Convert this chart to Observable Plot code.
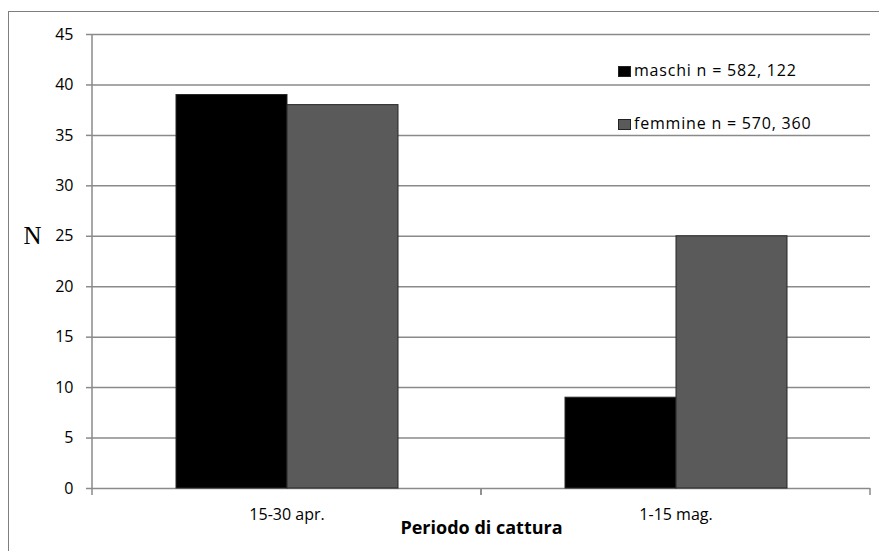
<!DOCTYPE html>
<html>
<head>
<meta charset="utf-8">
<script src="https://cdn.jsdelivr.net/npm/d3@7"></script>
<script src="https://cdn.jsdelivr.net/npm/@observablehq/plot@0.6"></script>
<style>
  body { margin: 0; background: #fff; }
  #wrap { position: relative; width: 879px; height: 551px; overflow: hidden; font-family: "Open Sans", sans-serif; }
  #border { position: absolute; left: 8px; top: 11px; width: 950px; height: 650px;
            border-left: 1.5px solid #7f7f7f; border-top: 1.5px solid #7f7f7f; pointer-events: none; }
  .leg { position: absolute; left: 618px; height: 20px; line-height: 20px; font-size: 16px;
         letter-spacing: 0.8px; color: #000; white-space: nowrap; }
  .sw { display: inline-block; width: 13px; height: 11px; border: 1px solid #222; margin-right: 3px;
        vertical-align: -1px; box-sizing: border-box; }
</style>
</head>
<body>
<div id="wrap"><div id="border"></div></div>
<script>
// ---- data ----
const periodi = ["15-30 apr.", "1-15 mag."];
const sessi = ["maschi", "femmine"];
const maschi = [39, 9];
const femmine = [38, 25];
const legendLabels = ["maschi n = 582, 122", "femmine n = 570, 360"];
const colori = ["#000000", "#5a5a5a"];
const yTicks = [0, 5, 10, 15, 20, 25, 30, 35, 40, 45];
const yLabel = "N";
const xTitle = "Periodo di cattura";

const table = periodi.flatMap((p, i) => [
  {periodo: p, sesso: sessi[0], n: maschi[i]},
  {periodo: p, sesso: sessi[1], n: femmine[i]}
]);

const gridColor = "#8a8a8a";

// small tick marks at the category boundaries (drawn in every facet, from the inner x scale's range)
const boundaryTicks = Plot.ruleY([0], {
  render(index, scales) {
    const [x0, x1] = scales.x.range();
    const y0 = scales.y(0);
    const g = d3.create("svg:g").attr("stroke", gridColor).attr("stroke-width", 1.5);
    for (const x of [x0, x1]) g.append("line").attr("x1", x).attr("x2", x).attr("y1", y0).attr("y2", y0 + 7);
    return g.node();
  }
});

// vertical axis line, only in the first facet
const yAxisLine = Plot.ruleY([0], {
  fx: () => periodi[0],
  render(index, scales) {
    const [x0] = scales.x.range();
    const g = d3.create("svg:g").attr("stroke", gridColor).attr("stroke-width", 1.5);
    g.append("line").attr("x1", x0).attr("x2", x0).attr("y1", scales.y(d3.max(yTicks))).attr("y2", scales.y(0));
    return g.node();
  }
});

const chart = Plot.plot({
  width: 879,
  height: 551,
  marginLeft: 92,
  marginRight: 9,
  marginTop: 34,
  marginBottom: 63,
  style: {fontFamily: "Open Sans, sans-serif", fontSize: "16px", color: "#000", background: "transparent", overflow: "visible"},
  fx: {domain: periodi, padding: 0, label: null},
  x: {domain: sessi, paddingInner: 0, paddingOuter: 0.75, axis: null},
  y: {domain: [0, 45], label: null},
  color: {domain: sessi, range: colori},
  marks: [
    Plot.gridY(yTicks, {stroke: gridColor, strokeOpacity: 1, strokeWidth: 1.5}),
    Plot.barY(table, {fx: "periodo", x: "sesso", y: "n", fill: "sesso", stroke: "#262626", strokeWidth: 1}),
    yAxisLine,
    boundaryTicks,
    Plot.axisY(yTicks, {anchor: "left", tickSize: 6, tickPadding: 13, stroke: gridColor, strokeWidth: 1.5, fill: "#000", label: null, fontSize: 16}),
    Plot.axisFx({anchor: "bottom", tickSize: 0, tickPadding: 20, label: null, fontSize: 16, fill: "#000"}),
    Plot.axisFx({anchor: "bottom", ticks: [], tickSize: 0, label: xTitle, labelAnchor: "center", labelOffset: 45,
                 fontSize: 18, fontWeight: "bold", fill: "#000"}),
    Plot.text([yLabel], {fx: () => periodi[0], y: () => 25, text: d => d, frameAnchor: "left", dx: -60,
                         textAnchor: "middle", fontFamily: "Liberation Serif, DejaVu Serif, serif", fontSize: 25, fill: "#000"})
  ]
});

const wrap = document.getElementById("wrap");
chart.style.position = "absolute";
chart.style.left = "0px";
chart.style.top = "0px";
wrap.insertBefore(chart, wrap.firstChild);

// legend (inside the plotting area, top right)
const legTops = [60, 113];
legendLabels.forEach((lab, i) => {
  const d = document.createElement("div");
  d.className = "leg";
  d.style.top = legTops[i] + "px";
  const sw = document.createElement("span");
  sw.className = "sw";
  sw.style.background = colori[i];
  d.appendChild(sw);
  d.appendChild(document.createTextNode(lab));
  wrap.appendChild(d);
});
</script>
</body>
</html>
